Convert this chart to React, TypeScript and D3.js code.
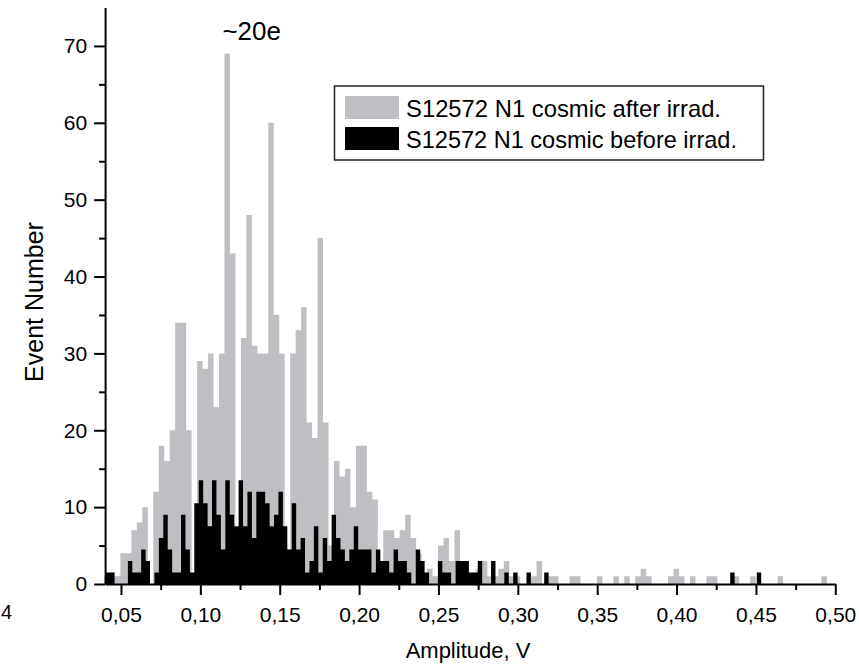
import React, { useEffect, useRef } from 'react';
import * as d3 from 'd3';

// histogram bins (volts)
const afterBinStart = 0.0393;
const afterBinWidth = 0.00345;
const afterIrrad = [
  1, 1, 1, 4, 4, 7, 8, 10, 0, 12,
  18, 16, 20, 34, 34, 20, 1, 29, 28, 30,
  23, 30, 69, 43, 7, 32, 48, 31, 30, 30,
  60, 35, 30, 4, 30, 33, 36, 21, 19, 45,
  21, 5, 16, 14, 15, 10, 18, 18, 12, 11,
  2, 7, 7, 6, 7, 9, 6, 4, 1, 2,
  1, 5, 6, 3, 7, 2, 1, 1, 2, 3,
  1, 1, 2, 3, 1, 1, 0, 0, 1, 3,
  0, 1, 1, 0, 0, 1, 1, 0, 0, 0,
  1, 0, 0, 1, 0, 1, 0, 1, 2, 1,
  0, 0, 0, 1, 2, 1, 0, 1, 0, 0,
  1, 1, 0, 0, 0, 1, 0, 0, 1, 0,
  0, 0, 0, 1, 0, 0, 0, 0, 0, 0,
  0, 1,
];

const beforeBinStart = 0.0404;
const beforeBinWidth = 0.00279;
const beforeIrrad = [
  1.5, 1.5, 0, 0, 0, 3, 1.5, 1.5, 4.5, 3,
  0, 1.5, 6, 9, 4.5, 1.5, 1.5, 9, 4.5, 1.5,
  10.5, 13.5, 10.5, 7.5, 13.5, 9, 4.5, 13.5, 9, 7.5,
  13.5, 7.5, 12, 6, 12, 12, 10.5, 7.5, 9, 12,
  7.5, 4.5, 10.5, 4.5, 6, 1.5, 3, 7.5, 1.5, 6,
  3, 9, 6, 4.5, 3, 4.5, 7.5, 4.5, 4.5, 4.5,
  1.5, 4.5, 3, 3, 1.5, 4.5, 3, 3, 1.5, 0,
  4.5, 3, 1.5, 0, 0, 3, 1.5, 1.5, 0, 3,
  3, 3, 1.5, 1.5, 3, 0, 0, 3, 0, 0,
  1.5, 0, 1.5, 0, 0, 1.5, 0, 0, 0, 1.5,
  0, 0, 0, 0, 0, 0, 0, 0, 0, 0,
  0, 0, 0, 0, 0, 0, 0, 0, 0, 0,
  0, 0, 0, 0, 0, 0, 0, 0, 0, 0,
  0, 0, 0, 0, 0, 0, 0, 0, 0, 0,
  0, 1.5, 0, 0, 0, 0, 0, 1.5, 0, 0,
  0, 0, 0, 0, 0, 0, 0, 0, 0, 0,
  0, 0, 0, 0,
];

const xMajorTicks = [0.05, 0.1, 0.15, 0.2, 0.25, 0.3, 0.35, 0.4, 0.45, 0.5];
const xMinorTicks = [0.075, 0.125, 0.175, 0.225, 0.275, 0.325, 0.375, 0.425, 0.475];
const yMajorTicks = [0, 10, 20, 30, 40, 50, 60, 70];
const yMinorTicks = [5, 15, 25, 35, 45, 55, 65];

const seriesNames = ['S12572 N1 cosmic after irrad.', 'S12572 N1 cosmic before irrad.'];
const peakNote = '~20e';

const W = 859;
const H = 672;
const FONT = 'Liberation Sans, Arial, sans-serif';
const GRAY = '#bfbfc3';

const x = d3.scaleLinear().domain([0.04, 0.5]).range([105.1, 835.3]);
const y = d3.scaleLinear().domain([0, 75]).range([584, 7.5]);

const stepPath = (vals: number[], start: number, width: number) => {
  const pts = vals.map((v, i) => ({ x: start + i * width, v }));
  pts.push({ x: start + vals.length * width, v: 0 });
  return d3
    .area<{ x: number; v: number }>()
    .curve(d3.curveStepAfter)
    .x(d => x(d.x))
    .y0(y(0))
    .y1(d => y(d.v))(pts) as string;
};

const App = () => {
  const xAxisRef = useRef<SVGGElement>(null);
  const yAxisRef = useRef<SVGGElement>(null);

  useEffect(() => {
    const fmt = (d: any) => d3.format('.2f')(d).replace('.', ',');

    const gx = d3.select(xAxisRef.current);
    gx.selectAll('*').remove();
    const minorX = gx.append('g').call(
      d3.axisBottom(x).tickValues(xMinorTicks).tickSize(6).tickSizeOuter(0).tickFormat(() => '')
    );
    minorX.select('.domain').remove();
    gx.append('g').call(
      d3.axisBottom(x).tickValues(xMajorTicks).tickSize(11).tickSizeOuter(0).tickPadding(12).tickFormat(fmt)
    );

    const gy = d3.select(yAxisRef.current);
    gy.selectAll('*').remove();
    const minorY = gy.append('g').call(
      d3.axisLeft(y).tickValues(yMinorTicks).tickSize(6).tickSizeOuter(0).tickFormat(() => '')
    );
    minorY.select('.domain').remove();
    gy.append('g').call(
      d3.axisLeft(y).tickValues(yMajorTicks).tickSize(11).tickSizeOuter(0).tickPadding(7).tickFormat(d3.format('d'))
    );

    [gx, gy].forEach(g => {
      g.selectAll('.domain').attr('stroke', '#000').attr('stroke-width', 2);
      g.selectAll('.tick line').attr('stroke', '#000').attr('stroke-width', 2);
      g.selectAll('.tick text')
        .attr('fill', '#000')
        .style('font-family', FONT)
        .style('font-size', '21px');
    });
  }, []);

  return (
    <svg
      width={W}
      height={H}
      style={{ position: 'absolute', left: 0, top: 0, background: '#fff' }}
    >
      <path d={stepPath(afterIrrad, afterBinStart, afterBinWidth)} fill={GRAY} />
      <path d={stepPath(beforeIrrad, beforeBinStart, beforeBinWidth)} fill="#000" />

      <g ref={xAxisRef} transform={`translate(0,${y(0)})`} />
      <g ref={yAxisRef} transform={`translate(${x(0.04)},0)`} />

      <text x={251.7} y={40} textAnchor="middle" fontFamily={FONT} fontSize={26}>
        {peakNote}
      </text>

      {/* legend */}
      <rect x={334.5} y={86} width={429} height={74} fill="#fff" stroke="#222" strokeWidth={1.5} />
      <rect x={345} y={96} width={54} height={23} fill={GRAY} />
      <rect x={345} y={127} width={54} height={23} fill="#000" />
      <text x={406} y={117} fontFamily={FONT} fontSize={24} textLength={315} lengthAdjust="spacingAndGlyphs">
        {seriesNames[0]}
      </text>
      <text x={406} y={148} fontFamily={FONT} fontSize={24} textLength={331} lengthAdjust="spacingAndGlyphs">
        {seriesNames[1]}
      </text>

      <text x={468} y={658} textAnchor="middle" fontFamily={FONT} fontSize={22}>
        Amplitude, V
      </text>
      <text
        transform="translate(43,302) rotate(-90)"
        textAnchor="middle"
        fontFamily={FONT}
        fontSize={25}
      >
        Event Number
      </text>
      <text x={1} y={619} fontFamily={FONT} fontSize={20}>
        4
      </text>
    </svg>
  );
};

export default App;
